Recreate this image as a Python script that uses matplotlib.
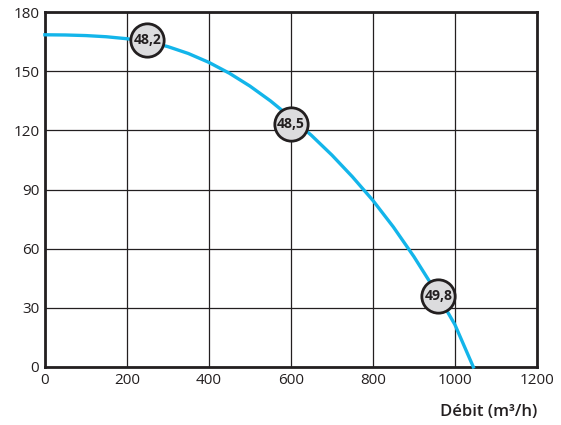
import matplotlib
matplotlib.use('Agg')
import matplotlib.pyplot as plt

# Fan curve data
flow = [0, 50, 100, 150, 200, 250, 300, 350, 400, 450, 500, 550, 600, 650, 700,
        750, 800, 850, 900, 950, 1000, 1045]
pressure = [168.5, 168.4, 168.1, 167.5, 166.5, 165, 162.5, 159, 154.5, 149, 142.5,
            135, 126.5, 117.5, 107.5, 96.5, 84.5, 71, 56, 39.5, 21.5, 0]

# Labelled operating points (sound level)
point_flow = [250, 600, 960]
point_pressure = [166, 123.5, 36]
point_labels = ['48,2', '48,5', '49,8']

xticks = [0, 200, 400, 600, 800, 1000, 1200]
yticks = [0, 30, 60, 90, 120, 150, 180]

plt.rcParams['font.family'] = ['Open Sans', 'DejaVu Sans']
txt = '#231f20'

fig = plt.figure(figsize=(5.61, 4.25), dpi=100)
ax = fig.add_axes([0.080, 0.1365, 0.877, 0.835])

ax.plot(flow, pressure, color='#13b5ea', lw=2.4, zorder=3, clip_on=False,
        solid_joinstyle='round')
ax.plot(point_flow, point_pressure, 'o', ms=24, mfc='#dcdcde', mec=txt, mew=2.0,
        zorder=4, clip_on=False)
for xf, yp, lab in zip(point_flow, point_pressure, point_labels):
    ax.text(xf, yp, lab, ha='center', va='center', fontsize=10, fontweight='bold',
            color=txt, zorder=5)

ax.set_xlim(0, 1200)
ax.set_ylim(0, 180)
ax.set_xticks(xticks)
ax.set_yticks(yticks)
ax.grid(True, color=txt, lw=0.9)
ax.set_axisbelow(True)
for s in ax.spines.values():
    s.set_color(txt)
    s.set_linewidth(2.0)
ax.tick_params(length=0, labelsize=11, colors=txt, pad=4)
ax.set_xlabel('Débit (m³/h)', fontsize=12, color=txt, fontweight='semibold')
ax.xaxis.set_label_coords(1.0, -0.105)
ax.xaxis.label.set_ha('right')

fig.savefig('out.png', dpi=100)
